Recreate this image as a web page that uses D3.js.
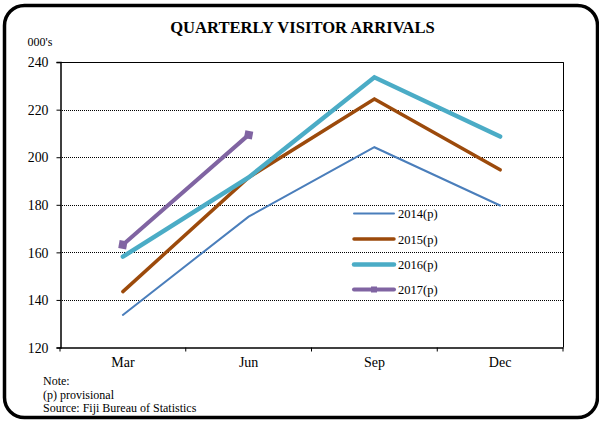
<!DOCTYPE html>
<html><head><meta charset="utf-8">
<script src="https://cdn.jsdelivr.net/npm/d3@7"></script>
<style>
html,body{margin:0;padding:0;background:#fff;}
svg text{font-family:"Liberation Serif","Times New Roman",serif;fill:#000;}
</style></head>
<body>
<svg id="chart" width="599" height="421"></svg>
<script>
const categories = ["Mar","Jun","Sep","Dec"];
const yTicks = [120,140,160,180,200,220,240];
const series2014 = [133.7,175.0,204.2,179.7];
const series2015 = [143.5,191.5,224.5,194.7];
const series2016 = [158.2,191.5,233.6,208.7];
const series2017 = [163.2,209.4];
const seriesNames = ["2014(p)","2015(p)","2016(p)","2017(p)"];
const seriesColors = ["#4a7ebb","#9c4a0b","#4bacc6","#8064a2"];
const seriesWidths = [2,3.5,4.5,4];
const notes = ["Note:","(p) provisional","Source: Fiji Bureau of Statistics"];

const svg = d3.select("#chart");
svg.append("rect").attr("x",4.5).attr("y",5.5).attr("width",593).attr("height",412)
  .attr("rx",20).attr("ry",20).attr("fill","none").attr("stroke","#000").attr("stroke-width",3.5);

svg.append("text").attr("x",302.5).attr("y",32.5).attr("text-anchor","middle")
  .style("font-weight","bold").style("font-size","16.6px").text("QUARTERLY VISITOR ARRIVALS");
svg.append("text").attr("x",27.5).attr("y",46).style("font-size","12px").text("000's");

const L=60, R=563, T=62.1, B=347.5;
const x = d3.scaleBand().domain(categories).range([L,R]);
const y = d3.scaleLinear().domain([120,240]).range([B,T]);

svg.append("g").selectAll("line").data(yTicks.filter(v=>v>120&&v<240)).join("line")
  .attr("x1",L).attr("x2",R).attr("y1",d=>Math.round(y(d))+0.5).attr("y2",d=>Math.round(y(d))+0.5)
  .attr("stroke","#000").attr("stroke-width",1).attr("stroke-dasharray","1,1");
svg.append("line").attr("x1",L).attr("x2",R).attr("y1",Math.round(T)+0.5).attr("y2",Math.round(T)+0.5).attr("stroke","#000");
svg.append("line").attr("x1",R+0.5).attr("x2",R+0.5).attr("y1",T).attr("y2",B).attr("stroke","#000");

const yAxis = svg.append("g").attr("transform",`translate(${L+0.5},0)`)
  .call(d3.axisLeft(y).tickValues(yTicks).tickSize(4).tickPadding(8).tickFormat(d3.format("d")));
yAxis.select(".domain").attr("stroke","#000").attr("stroke-width",1.5);
yAxis.selectAll("text").style("font-size","13.8px").style("font-family","Liberation Serif").attr("dy","0.34em");
const xAxis = svg.append("g").attr("transform",`translate(0,${B})`)
  .call(d3.axisBottom(x).tickSize(0).tickPadding(10));
xAxis.select(".domain").attr("stroke","#000").attr("stroke-width",1.5);
xAxis.selectAll("text").style("font-size","14px").style("font-family","Liberation Serif");
const bounds = categories.map(c=>x(c)).concat([R]);
svg.append("g").selectAll("line").data(bounds).join("line")
  .attr("x1",d=>d).attr("x2",d=>d).attr("y1",B).attr("y2",B+4).attr("stroke","#000");

const allSeries = [series2014,series2015,series2016,series2017];
const line = d3.line().x((d,i)=>x(categories[i])+x.bandwidth()/2).y(d=>y(d));
allSeries.forEach((s,k)=>{
  svg.append("path").datum(s).attr("d",line).attr("fill","none")
    .attr("stroke",seriesColors[k]).attr("stroke-width",seriesWidths[k])
    .attr("stroke-linejoin","miter").attr("stroke-linecap","round");
});
svg.append("g").selectAll("rect").data(series2017).join("rect")
  .attr("x",(d,i)=>x(categories[i])+x.bandwidth()/2-4).attr("y",d=>y(d)-4)
  .attr("width",8).attr("height",8).attr("fill",seriesColors[3])
  .attr("transform",(d,i)=>`rotate(10,${x(categories[i])+x.bandwidth()/2},${y(d)})`);

const legY = [213.5,239,264.5,289.5];
const leg = svg.append("g");
seriesNames.forEach((n,k)=>{
  leg.append("line").attr("x1",354).attr("x2",394).attr("y1",legY[k]).attr("y2",legY[k])
    .attr("stroke",seriesColors[k]).attr("stroke-width",seriesWidths[k]).attr("stroke-linecap","round");
  leg.append("text").attr("x",398).attr("y",legY[k]+4.5).style("font-size","12.5px").text(n);
});
leg.append("rect").attr("x",371).attr("y",legY[3]-3).attr("width",6).attr("height",6).attr("fill",seriesColors[3]);

svg.append("g").selectAll("text").data(notes).join("text")
  .attr("x",43).attr("y",(d,i)=>385+i*13.7).style("font-size","12px").text(d=>d);
</script>
</body></html>
